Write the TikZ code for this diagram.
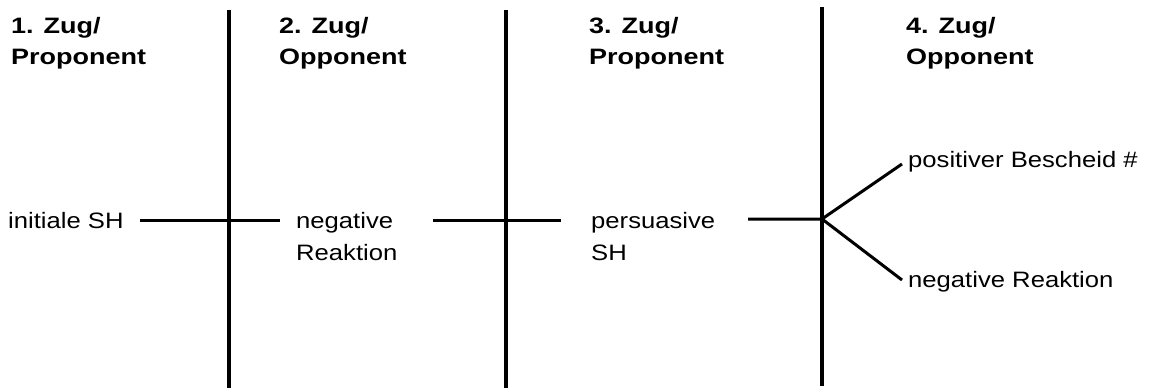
\documentclass[tikz,border=0pt]{standalone}
\usepackage{fontspec}
\setmainfont{Liberation Sans}[FakeStretch=1.15]
\newfontfamily\headfont{Liberation Sans}[FakeStretch=1.21]
% two stacked lines whose baseline is that of the first line
\newcommand\twoline[2]{\vtop{\baselineskip=32pt\hbox{#1}\hbox{#2}}}
\begin{document}
\begin{tikzpicture}[x=1pt,y=-1pt,
  lbl/.style={anchor=base west,inner sep=0pt,font=\fontsize{22.3}{32}\selectfont},
  head/.style={lbl,font=\fontsize{22.3}{32}\selectfont\headfont\bfseries},
  rule/.style={line width=3.1pt},
  link/.style={line width=3pt}]
\useasboundingbox (0,0) rectangle (1160,388);

% column headings
\node[head] (h1) at (11,33)  {\twoline{1. Zug/}{Proponent}};
\node[head] (h2) at (279,33) {\twoline{2. Zug/}{Opponent}};
\node[head] (h3) at (589,33) {\twoline{3. Zug/}{Proponent}};
\node[head] (h4) at (906,33) {\twoline{4. Zug/}{Opponent}};

% column separators
\coordinate (v1t) at (229,10); \coordinate (v1b) at (229,388);
\coordinate (v2t) at (506,10); \coordinate (v2b) at (506,388);
\coordinate (v3t) at (822,7);  \coordinate (v3b) at (822,386);
\draw[rule] (v1t) -- (v1b);
\draw[rule] (v2t) -- (v2b);
\draw[rule] (v3t) -- (v3b);

% moves
\node[lbl] (m1) at (8,228)   {initiale SH};
\node[lbl] (m2) at (296,228) {\twoline{negative}{Reaktion}};
\node[lbl] (m3) at (591,228) {\twoline{persuasive}{SH}};
\node[lbl] (m4a) at (908,167) {positiver Bescheid \#};
\node[lbl] (m4b) at (908,287) {negative Reaktion};

% connecting strokes
\coordinate (a1) at (140,220); \coordinate (b1) at (280,220);
\coordinate (a2) at (433,220); \coordinate (b2) at (561,220);
\coordinate (a3) at (748,219); \coordinate (j3) at (822,219);
\coordinate (up) at (902,164); \coordinate (dn) at (902,280);
\draw[link] (a1) -- (b1);
\draw[link] (a2) -- (b2);
\draw[link] (a3) -- (j3) -- (up);
\draw[link] (j3) -- (dn);
\end{tikzpicture}
\end{document}
